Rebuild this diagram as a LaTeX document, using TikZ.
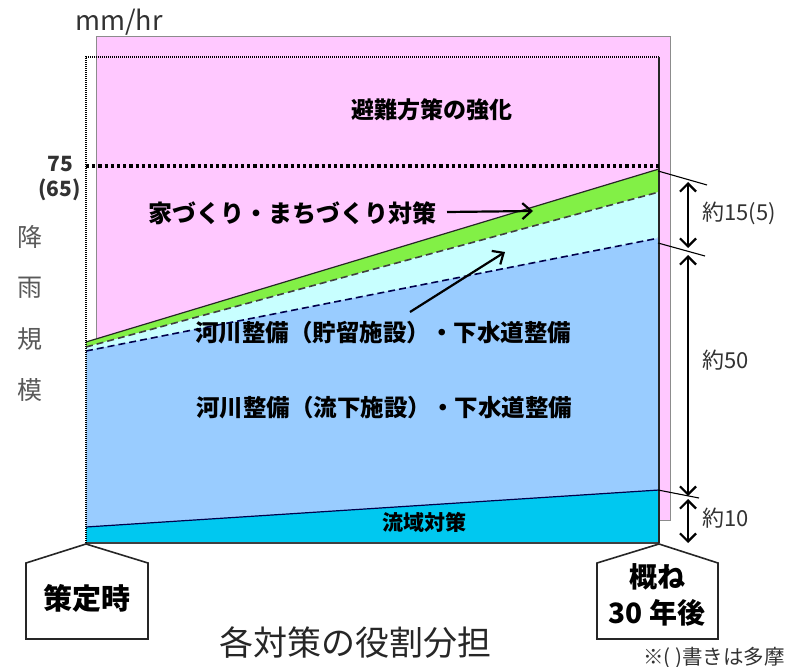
\documentclass[tikz,border=0pt]{standalone}
\usepackage{fontspec}
\setmainfont{Noto Sans CJK JP}
\usetikzlibrary{arrows.meta}
\definecolor{pinkbg}{RGB}{255,200,255}
\definecolor{greenband}{RGB}{130,240,70}
\definecolor{lightcyan}{RGB}{200,255,255}
\definecolor{blueband}{RGB}{153,204,255}
\definecolor{cyanband}{RGB}{0,200,240}
\definecolor{txtgray}{RGB}{50,50,50}
\tikzset{
  lbl/.style={font=\fontsize{23}{25}\selectfont\bfseries, text=black, inner sep=0pt},
  axis/.style={font=\fontsize{20}{22}\selectfont, text=txtgray, inner sep=0pt},
  meas/.style={font=\fontsize{22}{24}\selectfont, text=txtgray, inner sep=0pt, anchor=west},
  dimarrow/.style={line width=2.2pt, {Straight Barb[length=8pt,width=16pt]}-{Straight Barb[length=8pt,width=16pt]}},
  ptr/.style={line width=2.2pt, -{Straight Barb[length=9pt,width=16pt]}},
  tick/.style={line width=1.1pt, black},
  pent/.style={draw=black!85, line width=1.6pt, fill=white},
  bigl/.style={font=\fontsize{28}{30}\selectfont\bfseries, text=black, inner sep=0pt}
}
\begin{document}
\begin{tikzpicture}[x=1pt,y=-1pt]
\useasboundingbox (0,0) rectangle (791,666);
% pink background
\fill[pinkbg, draw=black!45, line width=0.8pt] (96,36) rectangle (670,520);
% bands
\fill[greenband] (86,342) -- (659,169) -- (659,192) -- (86,347) -- cycle;
\fill[lightcyan] (86,347) -- (659,192) -- (659,238) -- (86,351) -- cycle;
\fill[blueband] (86,351) -- (659,238) -- (659,490) -- (86,527) -- cycle;
\fill[cyanband] (86,527) -- (659,490) -- (659,543) -- (86,543) -- cycle;
% band lines
\draw[line width=1.2pt, black!85] (86,342) -- (659,169);
\draw[line width=1.6pt, black!75, dash pattern=on 7pt off 4pt] (86,347) -- (659,192);
\draw[line width=1.6pt, black!70!blue, dash pattern=on 7pt off 4pt] (86,351) -- (659,238);
\draw[line width=1.2pt, black!70!blue] (86,527) -- (659,490);
\draw[line width=1.6pt, black!75] (86,543) -- (659,543);
% frame
\draw[line width=2.2pt, black, dash pattern=on 1.2pt off 0.8pt] (86,543) -- (86,57) -- (659,57);
\draw[line width=1.4pt, black!85] (659,57) -- (659,543);
% 75 line
\draw[line width=3.4pt, black, dash pattern=on 3.2pt off 3pt] (86,166) -- (659,166);
% axis texts
\node[font=\fontsize{27}{29}\selectfont, text=txtgray, inner sep=0pt] (unit) at (119,22) {mm/hr};
\node[axis, anchor=east, font=\fontsize{21}{23}\selectfont\bfseries] (v75) at (73,164) {75};
\node[axis, anchor=east, font=\fontsize{21}{23}\selectfont\bfseries] (v65) at (81,190) {(65)};
\node[axis, font=\fontsize{25}{27}\selectfont, text=black!65] (y1) at (30,237) {降};
\node[axis, font=\fontsize{25}{27}\selectfont, text=black!65] (y2) at (30,288) {雨};
\node[axis, font=\fontsize{25}{27}\selectfont, text=black!65] (y3) at (30,339) {規};
\node[axis, font=\fontsize{25}{27}\selectfont, text=black!65] (y4) at (30,390) {模};
% labels
\node[lbl] (hinan) at (432,110) {避難方策の強化};
\node[lbl, font=\fontsize{24}{26}\selectfont\bfseries] (ie) at (292,213) {家づくり・まちづくり対策};
\node[lbl, font=\fontsize{23.5}{26}\selectfont\bfseries] (chor) at (383,333) {河川整備（貯留施設）・下水道整備};
\node[lbl, font=\fontsize{23.5}{26}\selectfont\bfseries] (ryuka) at (384,408) {河川整備（流下施設）・下水道整備};
\node[lbl, font=\fontsize{21}{23}\selectfont\bfseries] (ryuiki) at (424,522) {流域対策};
% pointer arrows
\coordinate (ptA0) at (447,212);
\coordinate (ptA1) at (533,211);
\coordinate (ptB0) at (410,312);
\coordinate (ptB1) at (505,252);
\draw[ptr] (ptA0) -- (ptA1);
\draw[ptr] (ptB0) -- (ptB1);
% right ticks
\coordinate (t1a) at (658,171); \coordinate (t1b) at (707,185);
\coordinate (t2a) at (658,243); \coordinate (t2b) at (705,256);
\coordinate (t3a) at (658,490); \coordinate (t3b) at (699,498);
\draw[tick] (t1a) -- (t1b);
\draw[tick] (t2a) -- (t2b);
\draw[tick] (t3a) -- (t3b);
% dimension arrows
\coordinate (d1a) at (688,182); \coordinate (d1b) at (688,248);
\coordinate (d2a) at (688,255); \coordinate (d2b) at (688,496);
\coordinate (d3a) at (688,499); \coordinate (d3b) at (688,543);
\draw[dimarrow] (d1a) -- (d1b);
\draw[dimarrow] (d2a) -- (d2b);
\draw[dimarrow] (d3a) -- (d3b);
\node[meas] (m1) at (702,213) {約15(5)};
\node[meas] (m2) at (702,360) {約50};
\node[meas] (m3) at (702,518) {約10};
% pentagons
\draw[pent] (86,544) -- (148,563) -- (148,639) -- (26,639) -- (26,563) -- cycle;
\node[bigl, font=\fontsize{29}{31}\selectfont\bfseries] (start) at (87,598) {策定時};
\draw[pent] (659,544) -- (718,563) -- (718,639) -- (597,639) -- (597,563) -- cycle;
\node[bigl] (end1) at (657,577) {概ね};
\node[bigl] (end2) at (657,613) {30 年後};
% title and note
\node[font=\fontsize{34}{36}\selectfont, text=black!85, inner sep=0pt] (title) at (355,643) {各対策の役割分担};
\node[font=\fontsize{20.5}{22}\selectfont, text=txtgray, inner sep=0pt, anchor=west] (note) at (643,658) {※( )書きは多摩};
\end{tikzpicture}
\end{document}
